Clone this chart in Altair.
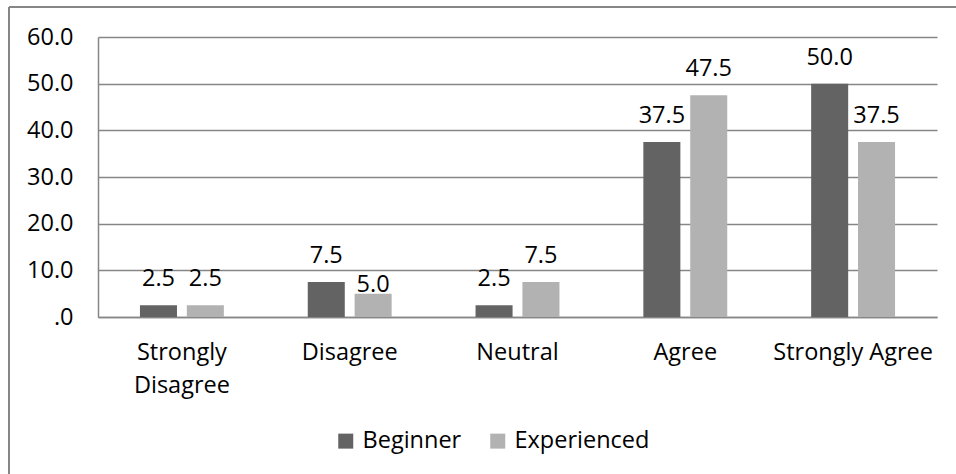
import altair as alt
import pandas as pd

categories = ["Strongly Disagree", "Disagree", "Neutral", "Agree", "Strongly Agree"]
beginner = [2.5, 7.5, 2.5, 37.5, 50.0]
experienced = [2.5, 5.0, 7.5, 47.5, 37.5]
groups = ["Beginner", "Experienced"]
colors = ["#636363", "#b2b2b2"]

rows = []
for i, cat in enumerate(categories):
    rows.append({"category": cat, "group": "Beginner", "value": beginner[i]})
    rows.append({"category": cat, "group": "Experienced", "value": experienced[i]})
df = pd.DataFrame(rows)

FONT = "Open Sans"
FS = 23.5
GRID = "#868686"

x_enc = alt.X(
    "category:N",
    sort=categories,
    scale=alt.Scale(paddingInner=0.5, paddingOuter=0.25),
    axis=alt.Axis(
        title=None,
        labelAngle=0,
        labelFontSize=FS,
        labelFont=FONT,
        labelColor="#000000",
        labelPadding=23,
        labelLineHeight=33,
        labelExpr="datum.label == 'Strongly Disagree' ? ['Strongly', 'Disagree'] : datum.label",
        ticks=False,
        domainColor=GRID,
        domainWidth=1.5,
        grid=False,
    ),
)
y_enc = alt.Y(
    "value:Q",
    scale=alt.Scale(domain=[0, 60], nice=False),
    axis=alt.Axis(
        title=None,
        values=[0, 10, 20, 30, 40, 50, 60],
        labelExpr="datum.value == 0 ? '.0' : format(datum.value, '.1f')",
        labelFontSize=FS,
        labelFont=FONT,
        labelColor="#000000",
        labelPadding=25,
        ticks=False,
        domainColor=GRID,
        domainWidth=1.5,
        gridColor=GRID,
        gridWidth=1.5,
    ),
)
xoff = alt.XOffset("group:N", sort=groups, scale=alt.Scale(paddingInner=0.21, paddingOuter=0))

bars = alt.Chart(df).mark_bar().encode(
    x=x_enc,
    y=y_enc,
    xOffset=xoff,
    color=alt.Color(
        "group:N",
        sort=groups,
        scale=alt.Scale(domain=groups, range=colors),
        legend=alt.Legend(
            title=None,
            orient="none",
            legendX=236,
            legendY=392,
            direction="horizontal",
            symbolType="square",
            symbolSize=225,
            symbolStrokeWidth=0,
            labelFont=FONT,
            labelFontSize=FS,
            labelColor="#000000",
            labelOffset=5,
            columnPadding=24,
        ),
    ),
)

label_base = alt.Chart(df).encode(
    x=alt.X("category:N", sort=categories),
    y="value:Q",
    xOffset=xoff,
    text=alt.Text("value:Q", format=".1f"),
)
labels = label_base.mark_text(
    font=FONT, fontSize=FS, color="#000000", baseline="alphabetic", dy=-19
).transform_filter("!(datum.category == 'Disagree' && datum.group == 'Experienced')")
labels_close = label_base.mark_text(
    font=FONT, fontSize=FS, color="#000000", baseline="alphabetic", dy=-2
).transform_filter("datum.category == 'Disagree' && datum.group == 'Experienced'")

# frame around the chart (left and top edges fall inside the window)
frame_left = alt.Chart(df).mark_rule(color=GRID, strokeWidth=1.5).encode(
    x=alt.value(-89), y=alt.value(-30), y2=alt.value(500)
)
frame_top = alt.Chart(df).mark_rule(color=GRID, strokeWidth=1.5).encode(
    x=alt.value(-89), x2=alt.value(900), y=alt.value(-30)
)

chart = (
    alt.layer(bars, labels, labels_close, frame_left, frame_top)
    .properties(
        width=839,
        height=280,
        autosize=alt.AutoSizeParams(type="none"),
        padding={"left": 98, "top": 37, "right": 19, "bottom": 157},
        background="#ffffff",
    )
    .configure_view(stroke=None)
)

chart.save("out.html", embed_options={"renderer": "svg", "actions": False})
